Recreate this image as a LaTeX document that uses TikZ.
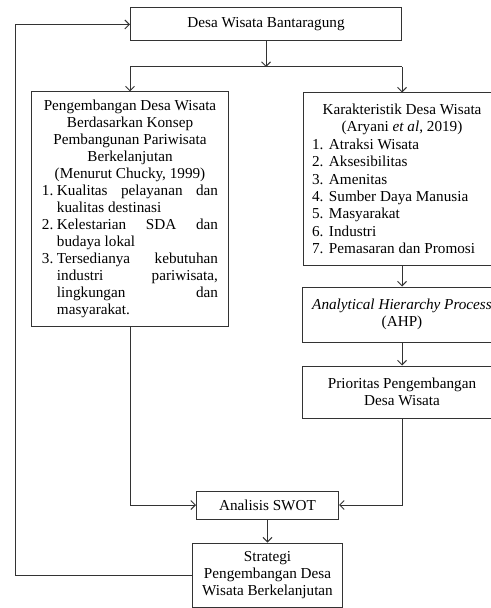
\documentclass[tikz,border=0pt]{standalone}
\usepackage{fontspec}
\setmainfont{Liberation Serif}
\usetikzlibrary{arrows.meta}
\begin{document}
\begin{tikzpicture}[x=1bp,y=-1bp,
  box/.style={draw=black!80, line width=1bp, rectangle, inner sep=0pt, align=center,
    font=\fontsize{15.2bp}{17.2bp}\selectfont},
  conn/.style={draw=black!80, line width=1bp},
  arr/.style={conn, -{Straight Barb[length=4.5bp,width=9bp]}}]
\clip (0,0) rectangle (491,608);
\fill[white] (0,0) rectangle (491,608);

\node[box, minimum width=271bp, minimum height=33bp] (top) at (266,24.5) {Desa Wisata Bantaragung};

\node[box, minimum width=196bp, minimum height=234bp] (left) at (130,209) {%
\begin{minipage}{176bp}\fontsize{15.2bp}{17bp}\selectfont\centering
Pengembangan Desa Wisata\\
Berdasarkan Konsep\\
Pembangunan Pariwisata\\
Berkelanjutan\\
(Menurut Chucky, 1999)\par
\raggedright
\makebox[15bp][l]{1.}\makebox[161bp][s]{Kualitas pelayanan dan}\par
\hspace*{15bp}kualitas destinasi\par
\makebox[15bp][l]{2.}\makebox[161bp][s]{Kelestarian SDA dan}\par
\hspace*{15bp}budaya lokal\par
\makebox[15bp][l]{3.}\makebox[161bp][s]{Tersedianya kebutuhan}\par
\hspace*{15bp}\makebox[161bp][s]{industri pariwisata,}\par
\hspace*{15bp}\makebox[161bp][s]{lingkungan dan}\par
\hspace*{15bp}masyarakat.
\end{minipage}};

\node[box, minimum width=198bp, minimum height=172bp] (right) at (402,179) {%
\begin{minipage}{180bp}\fontsize{15.2bp}{17.4bp}\selectfont\centering
Karakteristik Desa Wisata\\
(Aryani \textit{et al}, 2019)\par
\raggedright
\makebox[17bp][l]{1.}Atraksi Wisata\par
\makebox[17bp][l]{2.}Aksesibilitas\par
\makebox[17bp][l]{3.}Amenitas\par
\makebox[17bp][l]{4.}Sumber Daya Manusia\par
\makebox[17bp][l]{5.}Masyarakat\par
\makebox[17bp][l]{6.}Industri\par
\makebox[17bp][l]{7.}Pemasaran dan Promosi
\end{minipage}};

\node[box, minimum width=200bp, minimum height=55bp] (ahp) at (402,314.5)
  {\textit{Analytical Hierarchy Process}\\(AHP)};
\node[box, minimum width=200bp, minimum height=52bp] (prio) at (402,392)
  {Prioritas Pengembangan\\Desa Wisata};
\node[box, minimum width=142bp, minimum height=28bp] (swot) at (267.5,505) {Analisis SWOT};
\node[box, minimum width=150bp, minimum height=64bp] (strat) at (267.5,575)
  {Strategi\\Pengembangan Desa\\Wisata Berkelanjutan};

\coordinate (j) at (266,67);
\coordinate (fb) at (15,0);

\draw[arr] (top.south) -- (j);
\draw[conn] (left.north |- j) -- (right.north |- j);
\draw[arr] (left.north |- j) -- (left.north);
\draw[arr] (right.north |- j) -- (right.north);
\draw[arr] (right.south) -- (ahp.north);
\draw[arr] (ahp.south) -- (prio.north);
\draw[arr] (prio.south) -- (prio.south |- swot.east) -- (swot.east);
\draw[arr] (left.south) -- (left.south |- swot.west) -- (swot.west);
\draw[arr] (swot.south) -- (strat.north);
\draw[arr] (strat.west) -- (strat.west -| fb) -- (top.west -| fb) -- (top.west);
\end{tikzpicture}
\end{document}
